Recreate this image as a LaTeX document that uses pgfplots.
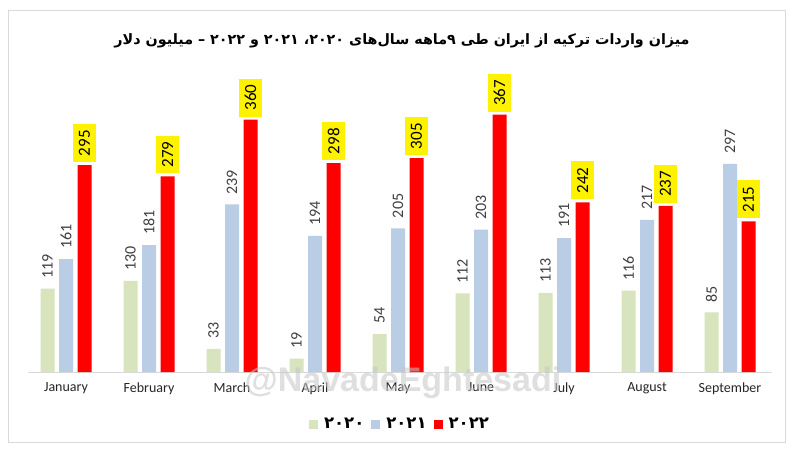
\documentclass[border=0pt]{standalone}
\usepackage{fontspec}
\usepackage{pgfplots}
\pgfplotsset{compat=1.18}
\setmainfont{Carlito}
\newfontfamily\fa[Script=Arabic]{DejaVu Sans}
\newfontfamily\wm{Liberation Sans}
\TeXXeTstate=1

\definecolor{c20}{HTML}{D7E4BD}
\definecolor{c21}{HTML}{B9CDE5}
\definecolor{c22}{HTML}{FF0000}
\definecolor{labgray}{HTML}{404040}
\definecolor{axisgray}{HTML}{D9D9D9}

\begin{document}
\begin{tikzpicture}
\useasboundingbox (0,0) rectangle (800pt,458pt);
\fill[white] (0,0) rectangle (800pt,458pt);
\draw[axisgray, line width=1pt] (8pt,16pt) rectangle (785pt,447pt);

\node[font=\fa\bfseries\fontsize{14.3}{14.3}\selectfont] at (402pt,417pt)
  {\beginR میزان واردات ترکیه از ایران طی ۹\kern0pt ماهه سال‌های ۲۰۲۰\kern0pt، ۲۰۲۱ و ۲۰۲۲ – میلیون دلار\endR};

\begin{axis}[
  at={(28pt,86pt)}, anchor=south west,
  scale only axis, width=744pt, height=312pt,
  xmin=-0.458, xmax=8.506, ymin=0, ymax=445,
  ybar=4.5pt, bar width=14pt,
  axis x line=bottom, axis y line=none,
  x axis line style={-, draw=axisgray, line width=1pt},
  xtick={0,...,8},
  xticklabels={January,February,March,April,May,June,July,August,September},
  major tick length=0pt,
  xticklabel style={font=\fontsize{14}{14}\selectfont, text=black!85, yshift=-7pt},
  clip=false,
  /pgf/number format/assume math mode=true,
  legend style={at={(0.5,-0.1667)}, anchor=center, draw=none, fill=none,
    legend columns=3, font=\fa\bfseries\fontsize{16.5}{16.5}\selectfont,
    /tikz/every odd column/.append style={column sep=4pt},
    /tikz/every even column/.append style={column sep=5pt}},
  legend image code/.code={\fill[#1] (0pt,-4.5pt) rectangle (9pt,4.5pt);},
]
\addplot[fill=c20, draw=none, nodes near coords,
  every node near coord/.append style={rotate=90, anchor=west, inner xsep=10pt,
    font=\fontsize{16}{16}\selectfont, text=labgray}]
  coordinates {(0,119) (1,130) (2,33) (3,19) (4,54) (5,112) (6,113) (7,116) (8,85)};
\addplot[fill=c21, draw=none, nodes near coords,
  every node near coord/.append style={rotate=90, anchor=west, inner xsep=10pt,
    font=\fontsize{16}{16}\selectfont, text=labgray}]
  coordinates {(0,161) (1,181) (2,239) (3,194) (4,205) (5,203) (6,191) (7,217) (8,297)};
\addplot[fill=c22, draw=none, nodes near coords,
  every node near coord/.append style={rotate=90, anchor=west, fill=yellow,
    inner xsep=6pt, inner ysep=6pt, outer xsep=3pt,
    font=\fontsize{17}{17}\selectfont, text=black}]
  coordinates {(0,295) (1,279) (2,360) (3,298) (4,305) (5,367) (6,242) (7,237) (8,215)};
\legend{۲۰۲۰,۲۰۲۱,۲۰۲۲}
\end{axis}

\node[font=\wm\bfseries\fontsize{34}{34}\selectfont, text=gray!45, opacity=0.55]
  at (403pt,75pt) {@NavadeEghtesadi};
\end{tikzpicture}
\end{document}
